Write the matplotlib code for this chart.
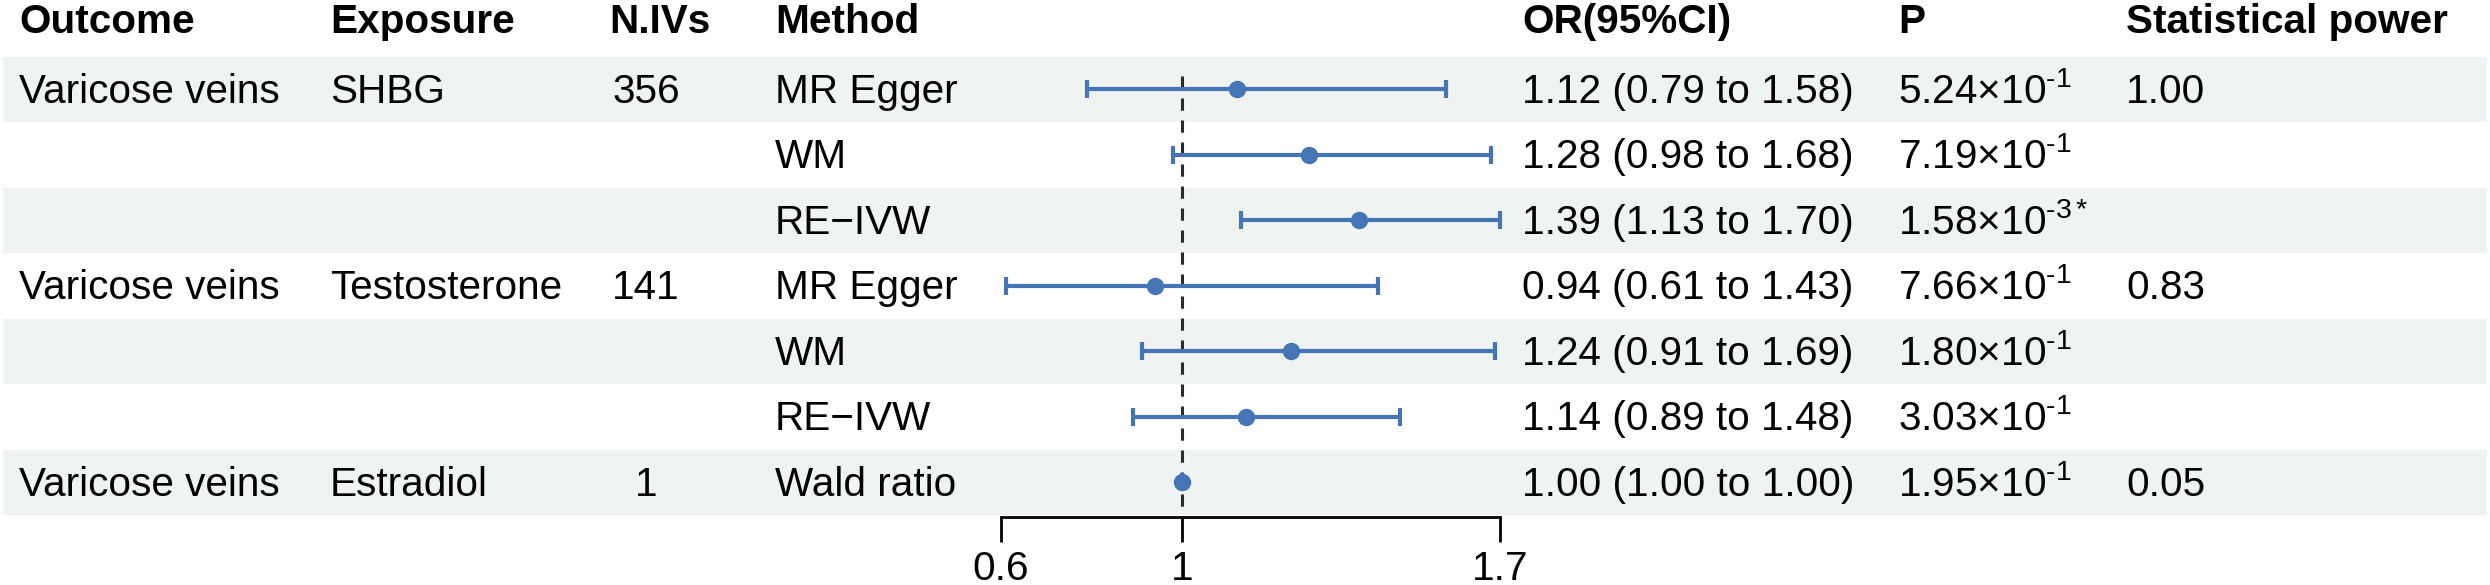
import numpy as np
import matplotlib
matplotlib.use("Agg")
import matplotlib.pyplot as plt

plt.rcParams["font.family"] = ["Liberation Sans", "DejaVu Sans"]
plt.rcParams["mathtext.fontset"] = "custom"
plt.rcParams["mathtext.rm"] = "Liberation Sans"
plt.rcParams["mathtext.it"] = "Liberation Sans:italic"
plt.rcParams["mathtext.bf"] = "Liberation Sans:bold"

# table data
headers = ["Outcome", "Exposure", "N.IVs", "Method", "OR(95%CI)", "P", "Statistical power"]
outcomes = ["Varicose veins", "", "", "Varicose veins", "", "", "Varicose veins"]
exposures = ["SHBG", "", "", "Testosterone", "", "", "Estradiol"]
n_ivs = ["356", "", "", "141", "", "", "1"]
methods = ["MR Egger", "WM", "RE\u2212IVW", "MR Egger", "WM", "RE\u2212IVW", "Wald ratio"]
or_est = [1.12, 1.28, 1.39, 0.94, 1.24, 1.14, 1.00]
ci_low = [0.79, 0.98, 1.13, 0.61, 0.91, 0.89, 1.00]
ci_high = [1.58, 1.68, 1.70, 1.43, 1.69, 1.48, 1.00]
p_mant = ["5.24", "7.19", "1.58", "7.66", "1.80", "3.03", "1.95"]
p_exp = ["-1", "-1", "-3", "-1", "-1", "-1", "-1"]
p_flag = ["", "", "*", "", "", "", ""]
power = ["1.00", "", "", "0.83", "", "", "0.05"]
x_ticks = [0.6, 1, 1.7]
x_ticklabels = ["0.6", "1", "1.7"]

W, H = 2490, 585
FS = 29.2
blue = "#4575b4"
band = "#eff3f2"

n = len(methods)
row_top, row_h = 56.5, 65.5
row_c0 = row_top + row_h / 2

fig = plt.figure(figsize=(W / 100, H / 100), dpi=100)

# background / table axes: x in pixels, y in row units
bg = fig.add_axes([0, 0, 1, 1])
bg.set_xlim(0, W)
bg.set_ylim((H - row_c0) / row_h, -row_c0 / row_h)
bg.axis("off")

for i in range(0, n, 2):
    bg.axhspan(i - 0.5, i + 0.5, xmin=3 / W, xmax=2487 / W, color=band, lw=0, zorder=0)

base = 13.5 / row_h
hdr_y = (33 - row_c0) / row_h
col_x = [19, 330, 609, 775, 1522, 1898, 2126]
for x, h in zip(col_x, headers):
    bg.text(x, hdr_y, h, fontsize=FS, fontweight="bold", va="baseline", ha="left")

for i in range(n):
    y = i + base
    bg.text(col_x[0], y, outcomes[i], fontsize=FS, va="baseline")
    bg.text(col_x[1], y, exposures[i], fontsize=FS, va="baseline")
    bg.text(646, y, n_ivs[i], fontsize=FS, va="baseline", ha="center")
    bg.text(col_x[3], y, methods[i], fontsize=FS, va="baseline")
    bg.text(col_x[4], y, "{:.2f} ({:.2f} to {:.2f})".format(or_est[i], ci_low[i], ci_high[i]),
            fontsize=FS, va="baseline")
    bg.text(col_x[5], y, p_mant[i] + "\u00d710$^{\\text{" + p_exp[i] + "}" + p_flag[i] + "}$",
            fontsize=FS, va="baseline")
    bg.text(col_x[6], y, power[i], fontsize=FS, va="baseline")

# forest axes
fx0, fx1 = 1001, 1500
ax = fig.add_axes([fx0 / W, 1 - (row_top + n * row_h) / H, (fx1 - fx0) / W, n * row_h / H])
ax.set_facecolor("none")
ax.set_xlim(0.6, 1.7)
ax.set_ylim(n - 0.5, -0.5)

rows = np.arange(n)
est = np.array(or_est)
lo = np.array(ci_low)
hi = np.array(ci_high)
ax.vlines(1, -0.2, n - 0.5, colors="#2b2b2b", linestyles=(0, (4, 3.2)), lw=2.2, zorder=1)
ax.errorbar(est, rows, xerr=[est - lo, hi - est], fmt="o", color=blue, ms=11.5,
            elinewidth=3, capsize=6.5, capthick=3, clip_on=False, zorder=3)

for s in ["top", "right", "left"]:
    ax.spines[s].set_visible(False)
ax.spines["bottom"].set_position(("outward", 1.5))
ax.spines["bottom"].set_linewidth(2)
ax.set_yticks([])
ax.set_xticks(x_ticks)
ax.set_xticklabels(x_ticklabels, fontsize=FS)
ax.tick_params(axis="x", direction="out", length=18, width=2, pad=6)

fig.savefig("out.png", dpi=100)
